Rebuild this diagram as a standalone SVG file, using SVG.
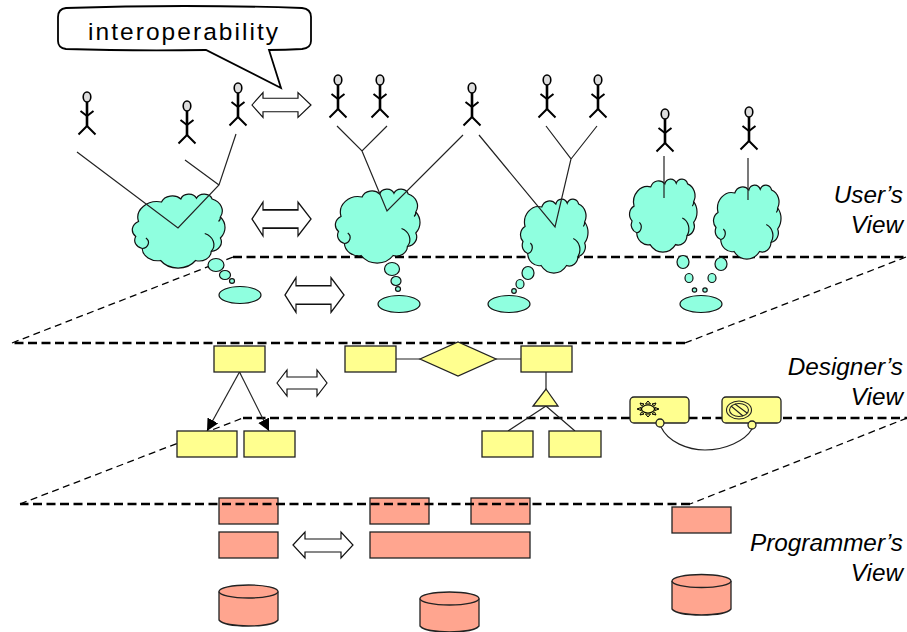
<svg xmlns="http://www.w3.org/2000/svg" width="907" height="632" viewBox="0 0 907 632">
<style>
text{font-family:"Liberation Sans",Arial,sans-serif;fill:#000}
.view{font-size:24.300px;font-style:italic;text-anchor:end}
.ln{fill:none;stroke:#222;stroke-width:1.2}
.thick{fill:none;stroke:#000;stroke-width:2.300;stroke-dasharray:9 4.500}
.thin{fill:none;stroke:#000;stroke-width:1.300;stroke-dasharray:7 4.500}
.dbl{fill:#fff;stroke:#111;stroke-width:1.2}
.teal{fill:#8fffdf;stroke:#111;stroke-width:1.2}
.cloud{fill:#8fffdf;stroke:#111;stroke-width:1.2;vector-effect:non-scaling-stroke}
.fold{fill:none;stroke:#111;stroke-width:1.2;vector-effect:non-scaling-stroke}
.yel{fill:#ffff8f;stroke:#222;stroke-width:1.3}
.pink{fill:#ffa58f;stroke:#222;stroke-width:1.3}
.body{fill:none;stroke:#000;stroke-width:2.600}
.limb{fill:none;stroke:#000;stroke-width:2}
</style>
<defs>
<marker id="head" markerUnits="userSpaceOnUse" markerWidth="13" markerHeight="13" refX="12" refY="6" orient="auto"><path d="M0 0L12 6L0 12Z" fill="#000"/></marker>
<g id="actor">
<ellipse cx="0" cy="0" rx="3.800" ry="5" fill="#ddd" stroke="#000" stroke-width="1.600"/>
<path class="body" d="M0 5V29"/>
<path class="limb" d="M-6.500 14L0 19L6.500 14M-8.500 37.500L0 29L8.500 37.500"/>
</g>
<g id="cloud">
<path class="cloud" d="M6 38A21 21 0 0 1 31 12A12.500 12.500 0 0 1 52 8A9 9 0 0 1 69 7A9 9 0 0 1 86 8A17 17 0 0 1 95 32A22 22 0 0 1 95 60A13 13 0 0 1 85 78A13 13 0 0 1 68 90A23 23 0 0 1 30 90A17 17 0 0 1 10 74A11.500 11.500 0 0 1 3 58A12.500 12.500 0 0 1 6 38Z"/>
<path class="fold" d="M78 54A16 16 0 0 1 85 78M95 32A8 8 0 0 1 93 38M10 74A8 8 0 0 0 14 60"/>
</g>
<path id="dblA" d="M0 0L11 -13V-7H46V-13L59 0L46 13V7H11V13Z"/>
</defs>

<g id="plane-top"><path class="thick" d="M233 257H906M685 343H12"/><path class="thin" d="M12 343L233 257M906 257L685 343"/></g>

<g id="cloud1"><use href="#cloud" transform="translate(133 193) scale(.92 .75)"/></g>
<g id="cloud2"><use href="#cloud" transform="translate(336 188) scale(.84 .75)"/></g>
<g id="cloud3"><use href="#cloud" transform="translate(521 198) scale(.67 .75)"/></g>
<g id="cloud4"><use href="#cloud" transform="translate(630 178) scale(.67 .74)"/></g>
<g id="cloud5"><use href="#cloud" transform="translate(714 184) scale(.67 .75)"/></g>

<g id="connectors">
<path class="ln" d="M77 152L178 228L219 185L236 134M185 160L219 185"/>
<path class="ln" d="M337 126L362 151L387 126M362 151L387 211L463 135"/>
<path class="ln" d="M479 135L555 227L571 159L546 126M571 159L597 126"/>
<path class="ln" d="M664 156V198M748 158V200"/>
</g>

<g id="actors">
<use href="#actor" x="87" y="97"/>
<use href="#actor" x="187" y="106"/>
<use href="#actor" x="238" y="88"/>
<use href="#actor" x="338" y="80"/>
<use href="#actor" x="380" y="80"/>
<use href="#actor" x="472" y="88"/>
<use href="#actor" x="547" y="80"/>
<use href="#actor" x="598" y="80"/>
<use href="#actor" x="665" y="114"/>
<use href="#actor" x="749" y="112"/>
</g>

<g id="callout">
<path d="M66 8Q185 4 302 8Q311 9 311 17V41Q311 48 302 49Q285 50 269 50L281 88L206 50Q130 51 66 49Q58 48 58 41V17Q58 9 66 8Z" fill="#fff" stroke="#000" stroke-width="1.800"/>
<text x="88" y="40" font-size="24.500" letter-spacing="2.050">interoperability</text>
</g>

<g id="arrow1"><use href="#dblA" class="dbl" transform="translate(252 105) scale(1 .96)"/></g>
<g id="arrow2"><use href="#dblA" class="dbl" transform="translate(252 219) scale(1 1.3)"/></g>
<g id="arrow3"><use href="#dblA" class="dbl" transform="translate(285 295) scale(1 1.33)"/></g>
<g id="arrow4"><path class="dbl" d="M277 383L287 370V377H317V370L327 383L317 396V389H287V396Z"/></g>
<g id="arrow5"><path class="dbl" d="M293 545L305 532V539H341V532L353 545L341 558V552H305V558Z"/></g>

<g id="thoughts">
<ellipse class="teal" cx="216" cy="265" rx="8" ry="6.500"/><ellipse class="teal" cx="225" cy="275" rx="5.500" ry="4.500"/><ellipse class="teal" cx="232" cy="281" rx="2.500" ry="2.300"/><ellipse class="teal" cx="240" cy="295" rx="21" ry="8.500"/>
<ellipse class="teal" cx="392" cy="269" rx="7.500" ry="6.500"/><ellipse class="teal" cx="396" cy="281" rx="5" ry="4.500"/><ellipse class="teal" cx="398" cy="289" rx="2.500" ry="2.300"/><ellipse class="teal" cx="399" cy="304" rx="21" ry="8.500"/>
<ellipse class="teal" cx="528" cy="273" rx="6" ry="6.500"/><ellipse class="teal" cx="520" cy="284" rx="4" ry="4.500"/><ellipse class="teal" cx="514" cy="291" rx="2.300" ry="2.300"/><ellipse class="teal" cx="509" cy="304" rx="21" ry="8.500"/>
<ellipse class="teal" cx="683" cy="262" rx="6" ry="6.500"/><ellipse class="teal" cx="689" cy="278" rx="4" ry="4.500"/><ellipse class="teal" cx="694.500" cy="290" rx="2.200" ry="2.200"/>
<ellipse class="teal" cx="705" cy="290" rx="2.200" ry="2.200"/><ellipse class="teal" cx="712" cy="278" rx="4" ry="4.500"/><ellipse class="teal" cx="721" cy="264" rx="6" ry="6.500"/><ellipse class="teal" cx="701" cy="304" rx="21" ry="8.500"/>
</g>

<g id="programmer-boxes">
<rect id="p1" class="pink" x="219" y="498" width="59" height="26"/>
<rect id="p2" class="pink" x="370" y="498" width="59" height="26"/>
<rect id="p3" class="pink" x="471" y="498" width="59" height="26"/>
<rect id="p4" class="pink" x="219" y="532" width="59" height="26"/>
<rect id="p5" class="pink" x="370" y="532" width="160" height="26"/>
<rect id="p6" class="pink" x="672" y="507" width="59" height="26"/>
</g>

<g id="plane-bottom"><path class="thick" d="M243 418H907M690 504H20"/><path class="thin" d="M20 504L243 418M907 418L690 504"/></g>

<g id="designer-links">
<path class="ln" d="M396 359H420M496 359H521M546 372V389M508 431L546 406L575 431"/>
<path class="ln" marker-end="url(#head)" d="M239.500 372L207 431"/>
<path class="ln" marker-end="url(#head)" d="M239.500 372L269 431"/>
<path class="ln" d="M661 427C668 442 688 450 705 450C725 450 745 441 752 429"/>
</g>
<g id="d1"><rect class="yel" x="214" y="346" width="51" height="26"/></g>
<g id="d2"><rect class="yel" x="345" y="346" width="51" height="26"/></g>
<g id="d3"><path class="yel" d="M420 359L458 342L496 359L458 376Z"/></g>
<g id="d4"><rect class="yel" x="521" y="346" width="51" height="26"/></g>
<g id="d5"><rect class="yel" x="177" y="431" width="60" height="26"/></g>
<g id="d6"><rect class="yel" x="244" y="431" width="51" height="26"/></g>
<g id="d7"><path class="yel" d="M546 389L558 406H533Z"/></g>
<g id="d8"><rect class="yel" x="482" y="431" width="51" height="26"/></g>
<g id="d9"><rect class="yel" x="549" y="431" width="52" height="26"/></g>
<g id="state1">
<rect class="yel" x="630" y="397" width="59" height="26" rx="4"/>
<ellipse cx="648" cy="409" rx="6.500" ry="4" fill="#ffff8f" stroke="#000" stroke-width="1.200"/>
<path d="M648 401L645.500 404H650.500ZM648 417L645.500 414H650.500ZM637 409L641 407.500V410.500ZM659 409L655 407.500V410.500ZM640 403L644 404L641.500 406ZM656 403L652 404L654.500 406ZM640 415L644 414L641.500 412ZM656 415L652 414L654.500 412Z" fill="#ffff8f" stroke="#000" stroke-width="1"/>
<circle class="yel" cx="660" cy="423" r="4"/>
</g>
<g id="state2">
<rect class="yel" x="722" y="397" width="59" height="26" rx="4"/>
<ellipse cx="739" cy="410" rx="12.500" ry="9" fill="none" stroke="#222" stroke-width="1.100"/>
<ellipse cx="739" cy="410" rx="9.500" ry="6.500" fill="none" stroke="#222" stroke-width="1.100"/>
<path d="M731 406L743 416M735 404L747 413" fill="none" stroke="#222" stroke-width="1.100"/>
<circle class="yel" cx="752" cy="425" r="4"/>
</g>

<g id="db1"><path class="pink" d="M219 591.500V620C225 628 272 628 278 620V591.500"/><ellipse class="pink" cx="248.500" cy="591.500" rx="29.500" ry="6.500"/></g>
<g id="db2"><path class="pink" d="M420 598.500V626C426 634 473 634 479 626V598.500"/><ellipse class="pink" cx="449.500" cy="598.500" rx="29.500" ry="6.500"/></g>
<g id="db3"><path class="pink" d="M672 581V609C678 617 725 617 731 609V581"/><ellipse class="pink" cx="701.500" cy="581" rx="29.500" ry="6.500"/></g>

<g id="labels">
<text class="view" x="903" y="203">User’s</text><text class="view" x="903" y="233">View</text>
<text class="view" x="903" y="375">Designer’s</text><text class="view" x="903" y="405">View</text>
<text class="view" x="903" y="551">Programmer’s</text><text class="view" x="903" y="581">View</text>
</g>
</svg>
